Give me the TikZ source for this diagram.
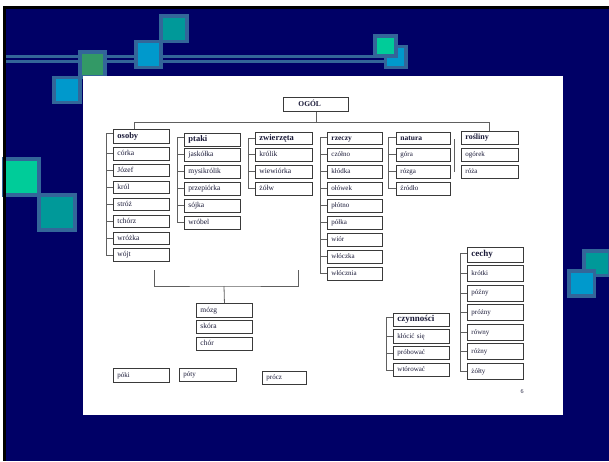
\documentclass[tikz,border=0pt]{standalone}
\usepackage{fontspec}
\setmainfont{Liberation Serif}
\definecolor{navy}{HTML}{000066}
\definecolor{steel}{HTML}{336699}
\definecolor{mint}{HTML}{00CC99}
\definecolor{tealc}{HTML}{009999}
\definecolor{bluec}{HTML}{0099CC}
\definecolor{greenc}{HTML}{339966}
\definecolor{boxc}{HTML}{3A3A3A}
\definecolor{brkc}{HTML}{606060}
\definecolor{txt}{HTML}{1A1A38}
\newcommand\decosq[9]{\fill[steel] (#1,#2) rectangle (#3,#4); \fill[#9] (#5,#6) rectangle (#7,#8);}
\begin{document}
\begin{tikzpicture}[x=1pt,y=-1pt,
  bx/.style={draw=boxc, line width=0.9pt, fill=white, rectangle, inner xsep=4pt, inner ysep=0pt,
    anchor=north west, align=left, text=txt, font=\fontsize{7.5}{8}\selectfont,
    text height=5.2pt, text depth=1.6pt, minimum height=12.5pt},
  hd/.style={bx, font=\bfseries\fontsize{8.5}{9}\selectfont, text height=6pt, text depth=2pt},
  brk/.style={draw=brkc, line width=0.8pt}
]
\useasboundingbox (0,0) rectangle (609,461);
\fill[white] (0,0) rectangle (609,461);
\fill[navy] (3,6) rectangle (609,461);
% decorative lines and squares
\fill[steel] (6,55) rectangle (388,58);
\fill[steel] (6,60) rectangle (388,63);
\decosq{159}{14}{189}{43}{163}{18}{185}{40}{tealc}
\decosq{134}{40}{163}{69}{138}{43}{159}{66}{bluec}
\decosq{78}{50}{107}{79}{82}{54}{103}{75}{greenc}
\decosq{52}{76}{82}{104}{56}{79}{78}{101}{bluec}
\decosq{384}{45}{408}{69}{387}{48}{404}{66}{bluec}
\decosq{373}{34}{398}{58}{377}{38}{394}{54}{mint}
\decosq{2}{157}{41}{197}{6}{161}{37}{193}{mint}
\decosq{37}{193}{77}{232}{41}{197}{73}{228}{tealc}
\decosq{582}{249}{612}{277}{586}{253}{608}{274}{tealc}
\decosq{567}{269}{596}{298}{571}{273}{593}{294}{bluec}
\fill[black] (3,6) rectangle (6,461);
\fill[black] (3,6) rectangle (609,9);
% white panel
\fill[white] (83,76) rectangle (563,415);

% root
\node[hd, font=\bfseries\fontsize{7.5}{8}\selectfont, text width=57pt, minimum height=14pt] (ogol) at (283,97) {\hspace*{11pt}OGÓL};

% osoby
\node[hd, text width=48pt, minimum height=14pt] (os0) at (113,129) {osoby};
\node[bx, text width=48pt] (os1) at (113,147) {córka};
\node[bx, text width=48pt] (os2) at (113,163.9) {Józef};
\node[bx, text width=48pt] (os3) at (113,180.8) {król};
\node[bx, text width=48pt] (os4) at (113,197.7) {stróż};
\node[bx, text width=48pt] (os5) at (113,214.6) {tchórz};
\node[bx, text width=48pt] (os6) at (113,231.5) {wróżka};
\node[bx, text width=48pt] (os7) at (113,248.4) {wójt};

% ptaki
\node[hd, text width=48pt] (pt0) at (184,133) {ptaki};
\node[bx, text width=48pt] (pt1) at (184,148) {jaskółka};
\node[bx, text width=48pt] (pt2) at (184,165) {mysikrólik};
\node[bx, text width=48pt] (pt3) at (184,182) {przepiórka};
\node[bx, text width=48pt] (pt4) at (184,199) {sójka};
\node[bx, text width=48pt] (pt5) at (184,216) {wróbel};

% zwierzeta
\node[hd, text width=49pt, minimum height=12pt] (zw0) at (255,132) {zwierzęta};
\node[bx, text width=49pt] (zw1) at (255,148) {królik};
\node[bx, text width=49pt] (zw2) at (255,165) {wiewiórka};
\node[bx, text width=49pt] (zw3) at (255,182) {żółw};

% rzeczy
\node[hd, font=\bfseries\fontsize{7.5}{8}\selectfont, text width=47pt, minimum height=12pt] (rz0) at (327,132) {rzeczy};
\node[bx, font=\fontsize{7}{8}\selectfont, text width=47pt] (rz1) at (327,148) {czółno};
\node[bx, font=\fontsize{7}{8}\selectfont, text width=47pt] (rz2) at (327,165) {kłódka};
\node[bx, font=\fontsize{7}{8}\selectfont, text width=47pt] (rz3) at (327,182) {ołówek};
\node[bx, font=\fontsize{7}{8}\selectfont, text width=47pt] (rz4) at (327,199) {płótno};
\node[bx, font=\fontsize{7}{8}\selectfont, text width=47pt] (rz5) at (327,216) {półka};
\node[bx, font=\fontsize{7}{8}\selectfont, text width=47pt] (rz6) at (327,233) {wiór};
\node[bx, font=\fontsize{7}{8}\selectfont, text width=47pt] (rz7) at (327,250) {włóczka};
\node[bx, font=\fontsize{7}{8}\selectfont, text width=47pt] (rz8) at (327,267) {włócznia};

% natura
\node[hd, font=\bfseries\fontsize{7.5}{8}\selectfont, text width=46pt, minimum height=12pt] (na0) at (396,132) {natura};
\node[bx, font=\fontsize{7}{8}\selectfont, text width=46pt] (na1) at (396,148) {góra};
\node[bx, font=\fontsize{7}{8}\selectfont, text width=46pt] (na2) at (396,165) {rózga};
\node[bx, font=\fontsize{7}{8}\selectfont, text width=46pt] (na3) at (396,182) {źródło};

% rosliny
\node[hd, font=\bfseries\fontsize{8}{9}\selectfont, text width=49pt, minimum height=13pt] (ro0) at (461,131) {rośliny};
\node[bx, font=\fontsize{7}{8}\selectfont, text width=49pt] (ro1) at (461,148) {ogórek};
\node[bx, font=\fontsize{7}{8}\selectfont, text width=49pt] (ro2) at (461,165) {róża};

% separator between natura and rosliny
\coordinate (sepa) at (454,139);
\coordinate (sepb) at (454,172);
\draw[brk] (sepa) -- (sepb);

% bottom group
\node[bx, text width=48pt, minimum height=14pt] (mo) at (196,303) {mózg};
\node[bx, text width=48pt, minimum height=13pt] (sk) at (196,320) {skóra};
\node[bx, text width=48pt, minimum height=13pt] (ch) at (196,337) {chór};

\node[bx, font=\fontsize{7}{8}\selectfont, text width=48pt, minimum height=14pt] (po) at (113,368) {póki};
\node[bx, font=\fontsize{7}{8}\selectfont, text width=49pt, minimum height=13pt] (pty) at (179,368) {póty};
\node[bx, font=\fontsize{7}{8}\selectfont, text width=36pt, minimum height=13pt] (pr) at (262,371) {prócz};

% czynnosci
\node[hd, font=\bfseries\fontsize{9}{10}\selectfont, text width=48pt, minimum height=13pt] (cz0) at (393,313) {czynności};
\node[bx, font=\fontsize{7}{8}\selectfont, text width=48pt, minimum height=14pt] (cz1) at (393,329) {kłócić się};
\node[bx, font=\fontsize{7}{8}\selectfont, text width=48pt, minimum height=13pt] (cz2) at (393,346) {próbować};
\node[bx, font=\fontsize{7}{8}\selectfont, text width=48pt, minimum height=13pt] (cz3) at (393,363) {wtórować};

% cechy
\node[hd, font=\bfseries\fontsize{9}{10}\selectfont, text width=48pt, minimum height=15pt] (ce0) at (467,247) {cechy};
\node[bx, font=\fontsize{7}{8}\selectfont, text width=48pt, minimum height=16pt] (ce1) at (467,265) {krótki};
\node[bx, font=\fontsize{7}{8}\selectfont, text width=48pt, minimum height=16pt] (ce2) at (467,284.6) {późny};
\node[bx, font=\fontsize{7}{8}\selectfont, text width=48pt, minimum height=16pt] (ce3) at (467,304.2) {próżny};
\node[bx, font=\fontsize{7}{8}\selectfont, text width=48pt, minimum height=16pt] (ce4) at (467,323.8) {równy};
\node[bx, font=\fontsize{7}{8}\selectfont, text width=48pt, minimum height=16pt] (ce5) at (467,343.4) {różny};
\node[bx, font=\fontsize{7}{8}\selectfont, text width=48pt, minimum height=16pt] (ce6) at (467,363) {żółty};

% page number
\node[text=txt, font=\fontsize{6}{7}\selectfont, inner sep=0pt] (pnum) at (522,392) {6};

% top tree connectors
\coordinate (tl) at (134,122);
\coordinate (tr) at (489,122);
\draw[brk] (ogol.south) -- (ogol.south |- tl);
\draw[brk] (tl |- os0.north) -- (tl) -- (tr) -- (tr |- ro0.north);

% column brackets
\draw[brk] ([yshift=3pt]os0.west) -- ++(-7,0) |- (os7.west);
\foreach \n in {os1,os2,os3,os4,os5,os6} \draw[brk] (\n.west) -- ++(-7,0);
\draw[brk] ([yshift=2pt]pt0.west) -- ++(-7,0) |- (pt5.west);
\foreach \n in {pt1,pt2,pt3,pt4} \draw[brk] (\n.west) -- ++(-7,0);
\draw[brk] (zw0.west) -- ++(-7,0) |- (zw3.west);
\foreach \n in {zw1,zw2} \draw[brk] (\n.west) -- ++(-7,0);
\draw[brk] ([yshift=1pt]rz0.west) -- ++(-7,0) |- (rz8.west);
\foreach \n in {rz1,rz2,rz3,rz4,rz5,rz6,rz7} \draw[brk] (\n.west) -- ++(-7,0);
\draw[brk] ([yshift=1pt]na0.west) -- ++(-8,0) |- (na3.west);
\foreach \n in {na1,na2} \draw[brk] (\n.west) -- ++(-8,0);
\draw[brk] ([yshift=3pt]cz0.west) -- ++(-7,0) |- (cz3.west);
\foreach \n in {cz1,cz2} \draw[brk] (\n.west) -- ++(-7,0);
\draw[brk] ([yshift=2pt]ce0.west) -- ++(-7,0) |- (ce6.west);
\foreach \n in {ce1,ce2,ce3,ce4,ce5} \draw[brk] (\n.west) -- ++(-7,0);

% bottom bracket
\coordinate (bl) at (154,270);
\coordinate (br) at (298,270);
\coordinate (bm) at (224,286);
\draw[brk] (bl) |- (bm) -| (br);
\draw[brk] (bm) -- (mo.north);
\end{tikzpicture}
\end{document}
